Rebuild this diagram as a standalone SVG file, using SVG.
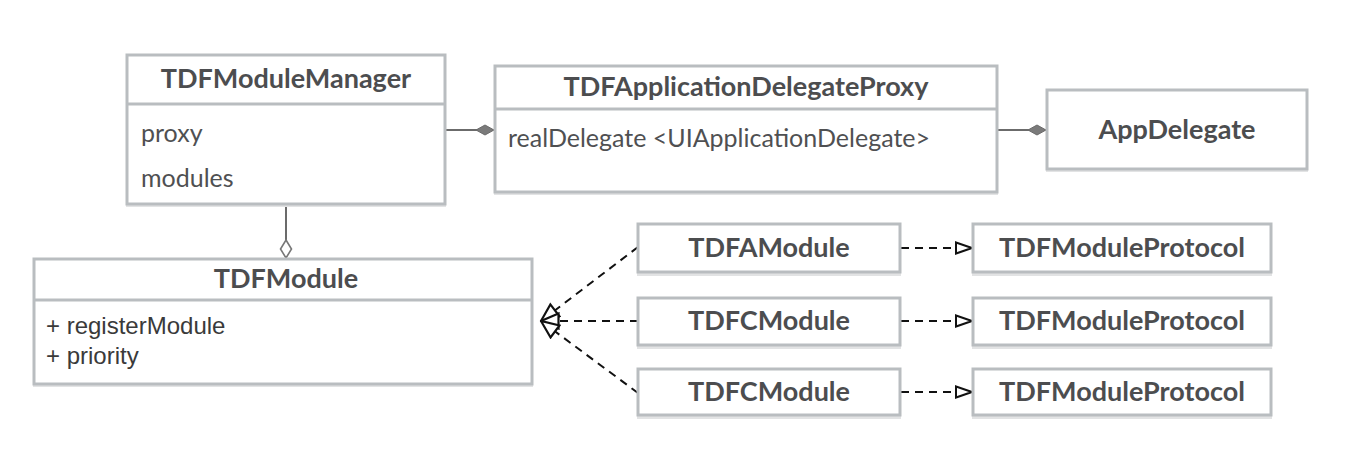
<svg xmlns="http://www.w3.org/2000/svg" width="1350" height="452" viewBox="0 0 1350 452">
<defs>
<style>
.box{fill:#fff;stroke:#b9bdc0;stroke-width:3}
.sh{fill:#e2e3e4}
.div{stroke:#b9bdc0;stroke-width:3}
.t{font-family:Lato,"Open Sans",sans-serif;font-weight:bold;font-size:27px;fill:#4c4d4f;text-anchor:middle}
.b{font-family:Lato,"Open Sans",sans-serif;font-size:25px;fill:#4f5052}
.h{font-family:"Liberation Sans",Arial,sans-serif;font-size:24px;fill:#3a3a3a}
.solid{stroke:#6b6b6b;stroke-width:2;fill:none}
.dash{stroke:#111;stroke-width:2;fill:none;stroke-dasharray:8 6}
</style>
<marker id="comp" viewBox="0 0 20 12" refX="19" refY="6" markerWidth="20" markerHeight="12" markerUnits="userSpaceOnUse" orient="auto">
<path d="M1,6 L10,1 L19,6 L10,11 Z" fill="#7a7a7a" stroke="#6b6b6b" stroke-width="1"/>
</marker>
<marker id="agg" viewBox="0 0 20 14" refX="19" refY="7" markerWidth="20" markerHeight="14" markerUnits="userSpaceOnUse" orient="auto">
<path d="M1,7 L10,1.5 L19,7 L10,12.5 Z" fill="#fff" stroke="#777" stroke-width="1.6"/>
</marker>
<marker id="real" viewBox="0 0 20 18" refX="19" refY="9" markerWidth="20" markerHeight="18" markerUnits="userSpaceOnUse" orient="auto">
<path d="M1.5,1.5 L19,9 L1.5,16.5 Z" fill="#fff" stroke="#111" stroke-width="2.2" stroke-dasharray="none"/>
</marker>
<marker id="real2" viewBox="0 0 18 14" refX="17" refY="7" markerWidth="18" markerHeight="14" markerUnits="userSpaceOnUse" orient="auto">
<path d="M1,1.5 L17,7 L1,12.5 Z" fill="#fff" stroke="#111" stroke-width="2" stroke-dasharray="none"/>
</marker>
</defs>
<rect width="1350" height="452" fill="#fff"/>

<g id="connectors">
<line class="solid" x1="446" y1="130" x2="494" y2="130" marker-end="url(#comp)"/>
<line class="solid" x1="998" y1="130" x2="1046" y2="130" marker-end="url(#comp)"/>
<line class="solid" x1="286" y1="205" x2="286" y2="258" marker-end="url(#agg)"/>
<line class="dash" x1="638" y1="247" x2="541" y2="321" marker-end="url(#real)"/>
<line class="dash" x1="638" y1="321" x2="541" y2="321" marker-end="url(#real)"/>
<line class="dash" x1="638" y1="393" x2="541" y2="321" marker-end="url(#real)"/>
<line class="dash" x1="901" y1="248" x2="972" y2="248" marker-end="url(#real2)"/>
<line class="dash" x1="901" y1="321" x2="972" y2="321" marker-end="url(#real2)"/>
<line class="dash" x1="901" y1="392" x2="972" y2="392" marker-end="url(#real2)"/>
</g>

<g id="TDFModuleManager">
<rect class="sh" x="126" y="57" width="320" height="150"/>
<rect class="box" x="127" y="55" width="318" height="149"/>
<line class="div" x1="127" y1="104" x2="445" y2="104"/>
<text class="t" x="286" y="88">TDFModuleManager</text>
<text class="b" x="141" y="142">proxy</text>
<text class="b" x="141" y="187">modules</text>
</g>

<g id="TDFApplicationDelegateProxy">
<rect class="sh" x="494" y="68" width="504" height="127"/>
<rect class="box" x="495" y="66" width="502" height="126"/>
<line class="div" x1="495" y1="109" x2="997" y2="109"/>
<text class="t" x="746" y="96">TDFApplicationDelegateProxy</text>
<text class="b" x="508" y="147">realDelegate &lt;UIApplicationDelegate&gt;</text>
</g>

<g id="AppDelegate">
<rect class="sh" x="1046" y="92" width="262" height="80"/>
<rect class="box" x="1047" y="90" width="260" height="79"/>
<text class="t" x="1177" y="139">AppDelegate</text>
</g>

<g id="TDFModule">
<rect class="sh" x="33" y="261" width="500" height="126"/>
<rect class="box" x="34" y="259" width="498" height="125"/>
<line class="div" x1="34" y1="300" x2="532" y2="300"/>
<text class="t" x="286" y="288">TDFModule</text>
<text class="h" x="46" y="334">+ registerModule</text>
<text class="h" x="46" y="364">+ priority</text>
</g>

<g id="TDFAModule">
<rect class="sh" x="637" y="226" width="264" height="50"/>
<rect class="box" x="638" y="224" width="262" height="48"/>
<text class="t" x="769" y="257">TDFAModule</text>
</g>
<g id="TDFCModule1">
<rect class="sh" x="637" y="300" width="264" height="49"/>
<rect class="box" x="638" y="298" width="262" height="47"/>
<text class="t" x="769" y="330">TDFCModule</text>
</g>
<g id="TDFCModule2">
<rect class="sh" x="637" y="371" width="264" height="48"/>
<rect class="box" x="638" y="369" width="262" height="46"/>
<text class="t" x="769" y="401">TDFCModule</text>
</g>

<g id="TDFModuleProtocol1">
<rect class="sh" x="972" y="226" width="300" height="50"/>
<rect class="box" x="973" y="224" width="298" height="48"/>
<text class="t" x="1122" y="257">TDFModuleProtocol</text>
</g>
<g id="TDFModuleProtocol2">
<rect class="sh" x="972" y="300" width="300" height="49"/>
<rect class="box" x="973" y="298" width="298" height="47"/>
<text class="t" x="1122" y="330">TDFModuleProtocol</text>
</g>
<g id="TDFModuleProtocol3">
<rect class="sh" x="972" y="371" width="300" height="48"/>
<rect class="box" x="973" y="369" width="298" height="46"/>
<text class="t" x="1122" y="401">TDFModuleProtocol</text>
</g>
</svg>
